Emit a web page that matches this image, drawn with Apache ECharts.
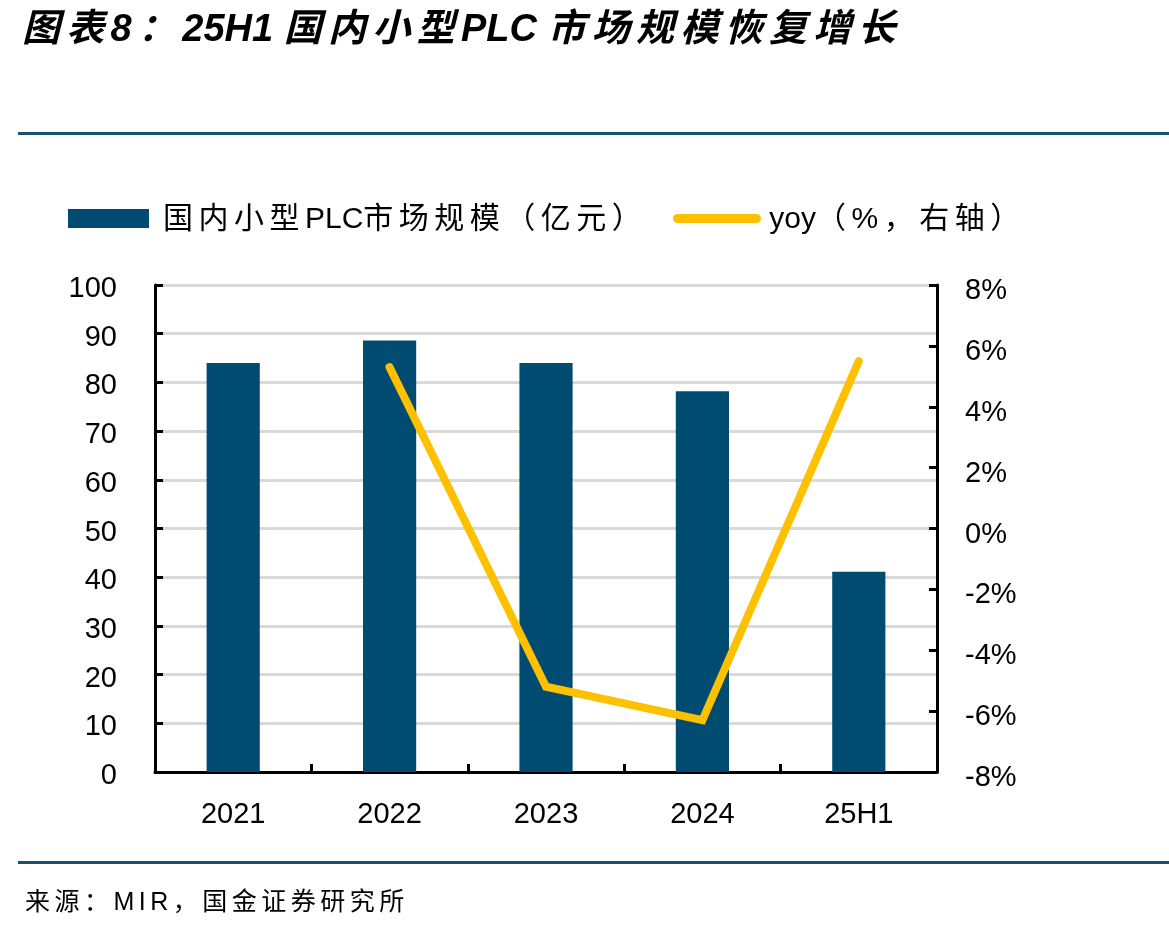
<!DOCTYPE html>
<html>
<head>
<meta charset="utf-8">
<title>国内小型PLC市场规模</title>
<script src="https://cdn.jsdelivr.net/npm/echarts@6/dist/echarts.min.js"></script>
<style>
html, body { margin: 0; padding: 0; background: #fff; }
.page {
  position: relative;
  width: 1169px;
  height: 931px;
  overflow: hidden;
  font-family: "Liberation Sans", "Noto Sans CJK SC", sans-serif;
  color: #000;
}
#chart { position: absolute; left: 0; top: 0; width: 1169px; height: 931px; }
.title {
  position: absolute; left: 22px; top: 5px;
  font-size: 38px; line-height: 46px;
  font-weight: bold; font-style: italic;
  letter-spacing: 6.3px; white-space: nowrap;
}
.lat { letter-spacing: 0; }
.rule { position: absolute; left: 18px; right: 0; height: 3px; background: #175278; }
.legend_trip {
  position: absolute; left: 68px; top: 200px; height: 36px;
  display: flex; align-items: center; white-space: nowrap;
}
.legend_trip i { display: inline-block; }
.legend_trip span.txt { font-size: 30px; line-height: 36px; letter-spacing: 5.5px; }
.source {
  position: absolute; left: 25px; top: 885px;
  font-size: 25px; line-height: 32px; letter-spacing: 4.5px; white-space: nowrap;
}
</style>
</head>
<body>
<div class="page">
  <div id="chart"></div>
  <div class="title">图表8：<span class="lat">25H1 </span>国内小型<span class="lat">PLC </span>市场规模恢复增长</div>
  <div class="rule" style="top:132px;"></div>
  <div class="legend_trip">
    <i style="width:81px;height:19px;background-color:#004B71;margin-right:14px;"></i>
    <span class="txt">国内小型<span class="lat">PLC</span>市场规模（亿元）</span>
    <i style="width:88px;height:9px;border-radius:5px;background-color:#FFC000;margin-left:26px;margin-right:8px;"></i>
    <span class="txt"><span class="lat">yoy</span>（%，右轴）</span>
  </div>
  <div class="rule" style="top:861px;"></div>
  <div class="source">来源：MIR，国金证券研究所</div>
</div>
<script>
// 数据
var categories = ['2021', '2022', '2023', '2024', '25H1'];
var marketSize = [84.0, 88.6, 84.0, 78.2, 41.1];   // 亿元
var yoy = [null, 5.3, -5.2, -6.3, 5.5];            // %
var leftTicks = { min: 0, max: 100, interval: 10 };
var rightTicks = { min: -8, max: 8, interval: 2 };

var chart = echarts.init(document.getElementById('chart'));
var axisFont = { color: '#000', fontSize: 29, fontFamily: 'Liberation Sans' };

chart.setOption({
  animation: false,
  grid: { left: 155, right: 232, top: 285, bottom: 159, containLabel: false },
  xAxis: {
    type: 'category',
    data: categories,
    axisLine: { show: true, lineStyle: { color: '#000', width: 3 } },
    axisTick: { show: true, inside: true, length: 8, lineStyle: { color: '#000', width: 3 } },
    axisLabel: Object.assign({ margin: 28, interval: 0 }, axisFont),
    splitLine: { show: false }
  },
  yAxis: [
    {
      type: 'value',
      min: leftTicks.min,
      max: leftTicks.max,
      interval: leftTicks.interval,
      axisLine: { show: true, lineStyle: { color: '#000', width: 3 } },
      axisTick: { show: true, inside: true, length: 8, lineStyle: { color: '#000', width: 3 } },
      // 标签略低于刻度
      axisLabel: Object.assign({ margin: 38, verticalAlign: 'top', lineHeight: 8 }, axisFont),
      splitLine: { show: true, lineStyle: { color: '#D9D9D9', width: 3 } }
    },
    {
      type: 'value',
      position: 'right',
      min: rightTicks.min,
      max: rightTicks.max,
      interval: rightTicks.interval,
      axisLine: { show: true, lineStyle: { color: '#000', width: 3 } },
      axisTick: { show: true, inside: true, length: 8, lineStyle: { color: '#000', width: 3 } },
      axisLabel: Object.assign({ margin: 28, verticalAlign: 'top', lineHeight: 12, formatter: '{value}%' }, axisFont),
      splitLine: { show: false }
    }
  ],
  series: [
    {
      name: '国内小型PLC市场规模（亿元）',
      type: 'bar',
      data: marketSize,
      barWidth: '34%',
      itemStyle: { color: '#004B71' }
    },
    {
      name: 'yoy（%，右轴）',
      type: 'line',
      yAxisIndex: 1,
      data: yoy,
      symbol: 'none',
      connectNulls: false,
      lineStyle: { color: '#FFC000', width: 8, cap: 'round', join: 'miter' },
      itemStyle: { color: '#FFC000' },
      z: 5
    }
  ]
});
</script>
</body>
</html>
